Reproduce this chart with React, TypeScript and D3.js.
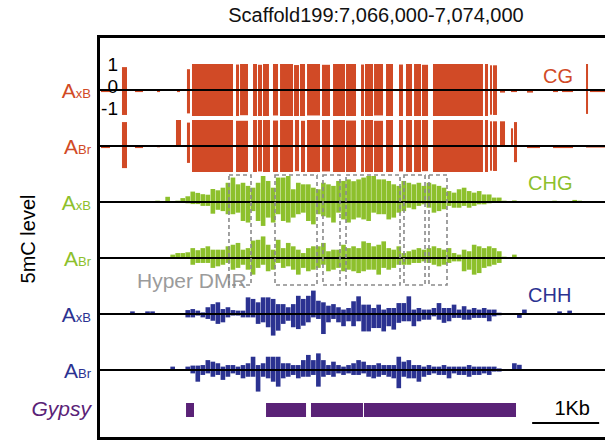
import React from "react";
import * as d3 from "d3";

// genomic window shown in the browser view
const region: [number, number] = [7066000, 7074000];
const binSize = 75; // bp per bin for CHG / CHH tracks

// CG methylation blocks: [start, end, +strand %, -strand %]
const cgAxB: [number, number, number, number][] = [
  [7066015, 7066149, 0, 8], [7066328, 7066403, 88, 96], [7066522, 7066642, 0, 8],
  [7066851, 7066896, 0, 8], [7067149, 7067194, 0, 8], [7067298, 7067343, 80, 90],
  [7067373, 7067985, 100, 100], [7068030, 7068075, 98, 100], [7068090, 7068209, 100, 97],
  [7068284, 7068343, 100, 100], [7068358, 7068418, 97, 100], [7068433, 7068522, 100, 100],
  [7068582, 7068657, 100, 98], [7068687, 7068881, 100, 100], [7068896, 7068970, 96, 100],
  [7068985, 7069060, 100, 100], [7069090, 7069284, 100, 98], [7069313, 7069433, 97, 100],
  [7069478, 7069657, 100, 100], [7069672, 7069821, 100, 100], [7069896, 7069940, 98, 100],
  [7069955, 7070075, 100, 100], [7070090, 7070224, 100, 98], [7070269, 7070373, 100, 100],
  [7070463, 7070522, 98, 100], [7070567, 7070657, 100, 100], [7070687, 7070791, 100, 100],
  [7070806, 7070896, 97, 100], [7070970, 7071716, 100, 100], [7071746, 7071791, 100, 100],
  [7071821, 7071851, 95, 95], [7071866, 7071925, 95, 96], [7071970, 7072045, 0, 10],
  [7072134, 7072224, 0, 8], [7072373, 7072463, 0, 10], [7072761, 7072836, 0, 8],
  [7072896, 7073060, 0, 8], [7073254, 7073284, 100, 92], [7073313, 7073537, 0, 8],
];

const cgABr: [number, number, number, number][] = [
  [7066015, 7066149, 0, 8], [7066328, 7066403, 92, 85], [7066522, 7066642, 0, 8],
  [7066851, 7066896, 0, 5], [7067134, 7067209, 100, 0], [7067298, 7067343, 90, 65],
  [7067373, 7067985, 100, 100], [7068030, 7068209, 97, 100], [7068284, 7068343, 100, 100],
  [7068358, 7068418, 100, 98], [7068433, 7068537, 100, 100], [7068582, 7068657, 98, 100],
  [7068687, 7068881, 100, 100], [7068910, 7068970, 100, 97], [7069000, 7069060, 97, 100],
  [7069090, 7069284, 100, 100], [7069313, 7069433, 100, 98], [7069478, 7069657, 100, 100],
  [7069672, 7069821, 98, 100], [7069896, 7069940, 100, 100], [7069955, 7070075, 100, 100],
  [7070090, 7070224, 97, 100], [7070269, 7070373, 100, 100], [7070463, 7070522, 100, 98],
  [7070567, 7070657, 100, 100], [7070687, 7070791, 100, 100], [7070806, 7070896, 100, 97],
  [7070970, 7071716, 100, 100], [7071746, 7071791, 100, 100], [7071821, 7071851, 95, 95],
  [7071866, 7071925, 95, 96], [7071970, 7072045, 95, 0], [7072134, 7072164, 68, 0],
  [7072179, 7072224, 92, 62], [7072373, 7072567, 0, 8], [7072761, 7073060, 0, 8],
  [7073254, 7073537, 0, 6],
];

// CHG / CHH binned levels (%), bins of binSize from region start
const chgAxBUp = [
  0, 0, 0, 0, 0, 0, 0, 0, 0, 0,
  0, 5, 0, 20, 0, 5, 15, 22, 40, 35,
  30, 28, 50, 45, 55, 74, 94, 68, 74, 62,
  55, 74, 100, 81, 55, 94, 94, 100, 49, 74,
  68, 68, 55, 49, 74, 68, 62, 81, 81, 87,
  80, 87, 94, 100, 100, 87, 87, 81, 68, 62,
  81, 74, 68, 74, 62, 74, 68, 62, 55, 42,
  36, 49, 55, 42, 36, 42, 29, 29, 17, 17,
  5, 0, 6, 0, 0, 0, 0, 0, 0, 0,
  5, 0, 0, 0, 8, 5, 0, 0, 0, 0, 0,
];
const chgAxBDown = [
  0, 0, 0, 0, 0, 0, 0, 0, 0, 0,
  0, 0, 0, 0, 0, 0, 3, 5, 8, 8,
  15, 15, 45, 30, 35, 47, 47, 41, 73, 79,
  35, 73, 92, 60, 79, 47, 73, 79, 60, 47,
  41, 73, 86, 47, 55, 60, 79, 41, 67, 79,
  67, 60, 67, 73, 41, 47, 47, 67, 60, 41,
  35, 22, 28, 15, 9, 22, 41, 35, 28, 15,
  22, 22, 15, 22, 15, 9, 9, 5, 3, 0,
];
const chgABrUp = [
  0, 0, 0, 0, 0, 0, 0, 0, 0, 0,
  0, 0, 0, 0, 13, 19, 19, 22, 38, 30,
  38, 45, 32, 32, 32, 45, 51, 58, 32, 38,
  67, 70, 83, 51, 32, 70, 38, 58, 45, 32,
  19, 38, 45, 45, 58, 26, 32, 32, 51, 38,
  45, 38, 64, 58, 45, 51, 64, 38, 32, 45,
  19, 26, 32, 38, 32, 38, 45, 38, 32, 38,
  19, 13, 32, 26, 51, 45, 38, 45, 38, 26,
  5, 0, 13, 0, 0,
];
const chgABrDown = [
  0, 0, 0, 0, 0, 0, 0, 0, 0, 0,
  0, 0, 0, 0, 0, 0, 0, 0, 26, 19,
  19, 19, 38, 32, 26, 19, 45, 38, 26, 45,
  64, 38, 26, 51, 45, 19, 38, 32, 45, 64,
  38, 51, 45, 38, 26, 51, 45, 38, 51, 45,
  51, 58, 51, 45, 45, 64, 38, 45, 38, 26,
  26, 26, 19, 19, 13, 19, 26, 32, 26, 19,
  13, 13, 51, 45, 64, 58, 38, 32, 26, 19,
  3,
];
const chhAxBUp = [
  0, 0, 0, 0, 0, 0, 10, 0, 0, 10,
  10, 0, 0, 0, 0, 0, 0, 15, 19, 13,
  6, 26, 38, 45, 19, 26, 15, 13, 13, 64,
  58, 45, 64, 64, 58, 38, 38, 26, 38, 70,
  58, 70, 90, 51, 45, 32, 38, 26, 17, 23,
  49, 68, 36, 36, 23, 36, 17, 23, 23, 42,
  42, 68, 17, 23, 17, 17, 23, 42, 23, 23,
  36, 17, 30, 17, 23, 17, 23, 17, 17, 5,
  3, 0, 0, 0, 17, 0, 0, 0, 0, 0,
  0, 10, 0, 13, 0,
];
const chhAxBDown = [
  0, 0, 0, 0, 0, 0, 0, 0, 0, 0,
  0, 0, 0, 0, 0, 0, 0, 13, 13, 6,
  13, 19, 26, 38, 32, 13, 6, 6, 13, 13,
  13, 38, 32, 51, 83, 64, 38, 26, 51, 58,
  45, 32, 13, 19, 77, 32, 19, 32, 47, 28,
  47, 28, 67, 67, 54, 54, 67, 47, 60, 34,
  28, 28, 47, 28, 22, 22, 9, 22, 34, 28,
  15, 15, 22, 22, 15, 15, 15, 28, 9, 5,
  0, 0, 0, 15,
];
const chhABrUp = [
  0, 0, 0, 0, 0, 0, 0, 0, 0, 0,
  0, 0, 0, 0, 13, 0, 0, 13, 17, 17,
  19, 38, 32, 26, 13, 19, 19, 13, 19, 26,
  51, 19, 26, 51, 51, 51, 26, 26, 19, 19,
  38, 58, 38, 64, 38, 19, 32, 19, 13, 19,
  26, 38, 32, 19, 19, 26, 19, 19, 19, 51,
  32, 38, 19, 19, 13, 19, 13, 13, 19, 13,
  13, 13, 13, 19, 13, 13, 13, 13, 13, 6,
  0, 0, 26, 20,
];
const chhABrDown = [
  0, 0, 0, 0, 0, 0, 0, 0, 0, 0,
  0, 0, 0, 0, 0, 0, 0, 0, 13, 45,
  19, 13, 26, 19, 38, 26, 13, 19, 32, 26,
  26, 83, 26, 32, 45, 64, 32, 26, 19, 32,
  26, 26, 19, 64, 26, 19, 26, 13, 19, 13,
  19, 19, 13, 26, 32, 26, 19, 26, 32, 70,
  26, 32, 32, 45, 26, 19, 13, 19, 19, 32,
  13, 19, 19, 26, 19, 19, 13, 19, 6, 6,
];

const gypsy: [number, number][] = [
  [7067284, 7067403], [7068478, 7069075], [7069149, 7069925], [7069940, 7072209],
];
const hyperDMR: [number, number][] = [
  [7067925, 7068254], [7068612, 7069239], [7069328, 7069582],
  [7069672, 7070478], [7070537, 7070851], [7070910, 7071179],
];
const scaleBar: [number, number] = [7072450, 7073450];
const cgTicks = [1, 0, -1];

const RED = "#d14a26";
const GREEN = "#8dc02c";
const BLUE = "#2b3291";
const PURPLE = "#5a2277";
const FONT = "'Liberation Sans', Arial, Helvetica, sans-serif";

const rows = [
  { key: "cgAxB", ctx: "CG", sub: "xB", color: RED, blocks: cgAxB },
  { key: "cgABr", ctx: "CG", sub: "Br", color: RED, blocks: cgABr },
  { key: "chgAxB", ctx: "CHG", sub: "xB", color: GREEN, up: chgAxBUp, down: chgAxBDown },
  { key: "chgABr", ctx: "CHG", sub: "Br", color: GREEN, up: chgABrUp, down: chgABrDown },
  { key: "chhAxB", ctx: "CHH", sub: "xB", color: BLUE, up: chhAxBUp, down: chhAxBDown },
  { key: "chhABr", ctx: "CHH", sub: "Br", color: BLUE, up: chhABrUp, down: chhABrDown },
];

export default function App() {
  const width = 605, height = 441;
  const x = d3.scaleLinear().domain(region).range([100, 636]);
  const rowY = d3.scalePoint().domain(rows.map(r => r.key)).range([90, 370]);
  const amp = d3.scaleLinear().domain([0, 100]).range([0, 26]);
  const binW = x(region[0] + binSize) - x(region[0]);
  const gypsyY = 410;
  const y0 = rowY("cgAxB")!;
  const tickY = d3.scaleLinear().domain([-1, 1]).range([y0 + 20, y0 - 24]);

  const boxTop = rowY("chgAxB")! - 27;
  const boxBottom = rowY("chgABr")! + 27;

  return (
    <svg width={width} height={height} style={{ position: "absolute", left: 0, top: 0, display: "block", fontFamily: FONT }}>
      <rect width={width} height={height} fill="#fff" />
      <text x={376} y={22} textAnchor="middle" fontSize={20} fill="#111">Scaffold199:7,066,000-7,074,000</text>

      {/* bars */}
      {rows.map(r => {
        const yb = rowY(r.key)!;
        if (r.blocks) {
          return (
            <g key={r.key} fill={r.color}>
              {r.blocks.map((b, i) => (
                <g key={i}>
                  {b[2] > 0 && <rect x={x(b[0])} width={Math.max(1.5, x(b[1]) - x(b[0]))} y={yb - amp(b[2])} height={amp(b[2])} />}
                  {b[3] > 0 && <rect x={x(b[0])} width={Math.max(1.5, x(b[1]) - x(b[0]))} y={yb} height={amp(b[3])} />}
                </g>
              ))}
            </g>
          );
        }
        return (
          <g key={r.key} fill={r.color}>
            {r.up!.map((v, i) => v > 0 ? (
              <rect key={"u" + i} x={x(region[0] + i * binSize)} width={binW - 0.4} y={yb - amp(v)} height={amp(v)} />
            ) : null)}
            {r.down!.map((v, i) => v > 0 ? (
              <rect key={"d" + i} x={x(region[0] + i * binSize)} width={binW - 0.4} y={yb} height={amp(v)} />
            ) : null)}
          </g>
        );
      })}

      {/* baselines */}
      {rows.map(r => (
        <line key={"b" + r.key} x1={100} x2={width} y1={rowY(r.key)} y2={rowY(r.key)} stroke="#000" strokeWidth={2} />
      ))}

      {/* CG scale ticks */}
      {cgTicks.map(t => (
        <text key={t} x={118} y={tickY(t)} textAnchor="end" dominantBaseline="middle" fontSize={19} fill="#000">{t}</text>
      ))}

      {/* Gypsy */}
      {gypsy.map((g, i) => (
        <rect key={i} x={x(g[0])} width={x(g[1]) - x(g[0])} y={gypsyY - 7} height={14} fill={PURPLE} />
      ))}

      {/* Hyper DMR */}
      <text x={137} y={288} fontSize={21} fill="#9b9b9b">Hyper DMR</text>
      {hyperDMR.map((d, i) => (
        <rect key={i} x={x(d[0])} width={x(d[1]) - x(d[0])} y={boxTop} height={boxBottom - boxTop}
          fill="none" stroke="#8a8a8a" strokeWidth={1.6} strokeDasharray="4,3" />
      ))}

      {/* left labels */}
      {rows.map(r => (
        <text key={"l" + r.key} x={91} y={rowY(r.key)! + 8} textAnchor="end" fill={r.color}>
          <tspan fontSize={21}>A</tspan><tspan fontSize={13}>{r.sub}</tspan>
        </text>
      ))}
      <text x={91} y={gypsyY + 6} textAnchor="end" fontSize={21} fontStyle="italic" fill={PURPLE}>Gypsy</text>

      {/* context labels */}
      {rows.filter(r => r.sub === "xB").map(r => (
        <text key={"c" + r.key} x={r.ctx === "CG" ? 543 : 528} y={rowY(r.key)! - (r.ctx === "CG" ? 7 : 12)} fontSize={20} fill={r.color}>{r.ctx}</text>
      ))}

      <text x={30} y={239} transform="rotate(-90 30 239)" textAnchor="middle" dominantBaseline="middle" fontSize={20} fill="#000">5mC level</text>

      {/* scale bar */}
      <line x1={x(scaleBar[0])} x2={x(scaleBar[1])} y1={423} y2={423} stroke="#000" strokeWidth={2} />
      <text x={590} y={415} textAnchor="end" fontSize={20} fill="#000">1Kb</text>

      {/* frame */}
      <line x1={98.5} x2={98.5} y1={35} y2={440} stroke="#000" strokeWidth={3} />
      <line x1={97} x2={width} y1={36.5} y2={36.5} stroke="#000" strokeWidth={3} />
      <line x1={97} x2={width} y1={438.5} y2={438.5} stroke="#000" strokeWidth={3} />
    </svg>
  );
}
